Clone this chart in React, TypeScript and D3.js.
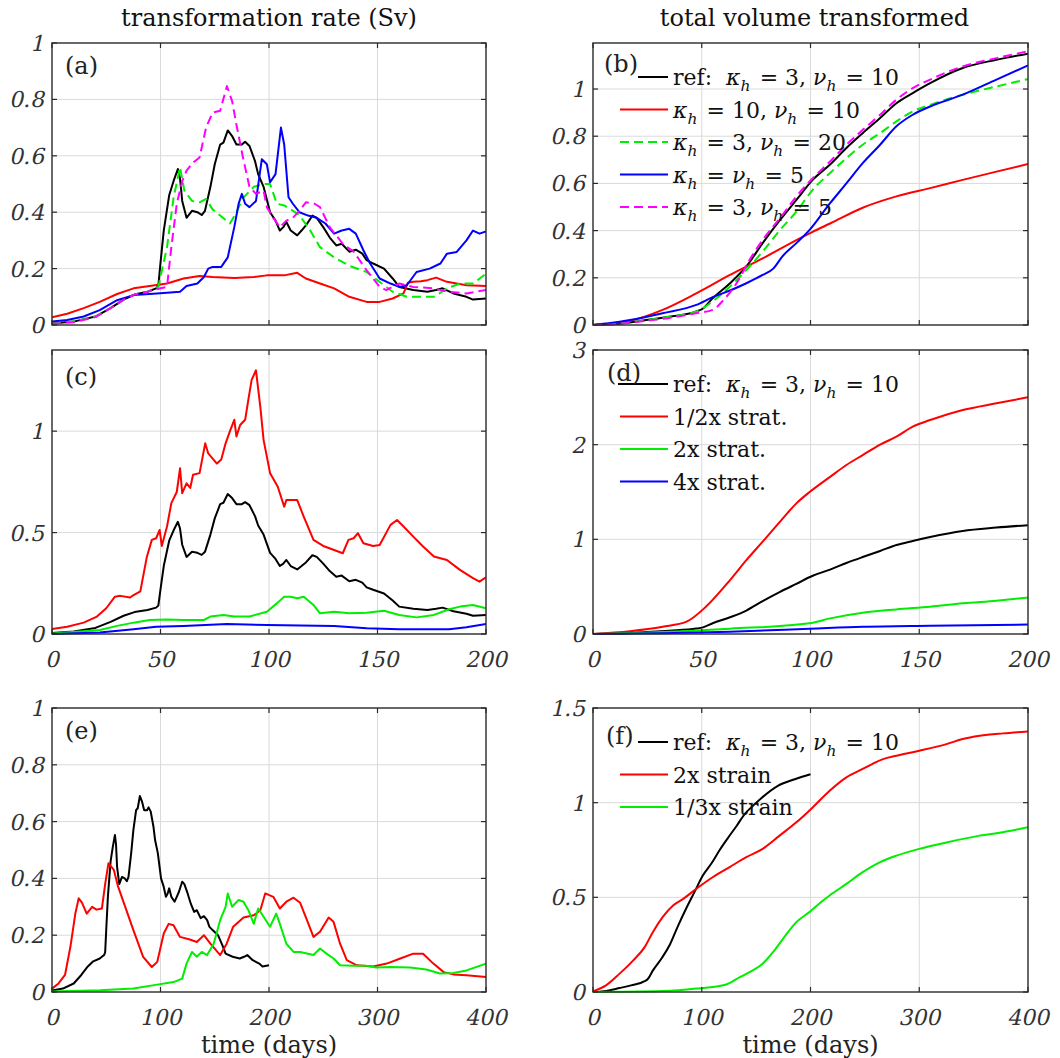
import React from 'react';
import * as d3 from 'd3';

type Pt = [number, number];

// ---------- DATA ----------
// transformation rate (Sv), reference run kappa_h=3, nu_h=10 (days 0-200)
const refRate: Pt[] = [[0,0.005],[10,0.012],[20,0.03],[27,0.06],[33,0.09],[38,0.108],[44,0.118],[48,0.13],[49,0.14],[50,0.22],[51.5,0.335],[54,0.46],[56,0.51],[58,0.553],[59,0.52],[60,0.44],[62,0.38],[64.5,0.405],[67,0.4],[69,0.39],[70.5,0.405],[73,0.49],[75,0.57],[77.5,0.64],[79,0.647],[81,0.69],[83,0.67],[85,0.64],[87.5,0.64],[89,0.65],[91,0.635],[93.6,0.58],[95,0.535],[97.5,0.49],[100.5,0.4],[103,0.37],[105,0.335],[106.6,0.347],[108,0.365],[110,0.335],[113,0.318],[115,0.335],[117,0.353],[120,0.388],[122,0.38],[125,0.347],[128,0.31],[131,0.282],[133.5,0.288],[137,0.26],[140,0.267],[143,0.253],[145,0.23],[148,0.218],[153,0.2],[157,0.165],[160,0.135],[166.5,0.124],[173,0.118],[177,0.124],[180,0.13],[185,0.112],[191,0.1],[194,0.09],[200,0.094]];
const rateK10: Pt[] = [[0,0.027],[7,0.04],[14.6,0.06],[22,0.082],[30,0.11],[37.6,0.13],[45,0.138],[53,0.147],[60.6,0.165],[68,0.174],[74,0.17],[84,0.167],[93,0.17],[99,0.176],[107,0.176],[113,0.185],[117,0.165],[123.5,0.147],[130,0.13],[137,0.1],[145,0.082],[151,0.082],[157,0.094],[162,0.112],[164,0.15],[166.5,0.153],[170,0.155],[173,0.159],[177,0.168],[182,0.153],[191,0.141],[200,0.138]];
const rateNu20: Pt[] = [[0,0.005],[10,0.012],[20,0.03],[27,0.06],[33,0.09],[38,0.108],[44,0.118],[49,0.135],[53,0.276],[56,0.45],[59,0.56],[61,0.476],[64.5,0.44],[68,0.435],[71,0.447],[74,0.41],[77.5,0.388],[82,0.36],[85,0.4],[88,0.45],[93,0.49],[97.5,0.5],[100.5,0.5],[103.6,0.43],[107,0.424],[110,0.41],[114,0.39],[119,0.335],[123.5,0.276],[130,0.24],[137,0.21],[145,0.188],[153,0.141],[157,0.118],[163.5,0.1],[170,0.1],[176,0.1],[182,0.13],[188,0.147],[194,0.147],[200,0.182]];
const rateK5N5: Pt[] = [[0,0.012],[7,0.018],[14.6,0.03],[22,0.053],[30,0.088],[37.6,0.106],[45,0.11],[53,0.114],[59,0.118],[62,0.138],[67,0.147],[70,0.17],[72,0.2],[74,0.206],[78,0.206],[81,0.24],[84,0.347],[86,0.43],[87.5,0.465],[89,0.43],[91,0.418],[94,0.44],[96.7,0.588],[99,0.57],[100.5,0.506],[103,0.535],[105.5,0.7],[107,0.64],[109,0.453],[111,0.43],[114,0.4],[118,0.388],[122,0.38],[126,0.36],[130,0.324],[133.5,0.335],[137,0.341],[140,0.324],[143.5,0.265],[146.6,0.218],[151,0.165],[156,0.147],[160,0.135],[163.5,0.141],[168,0.188],[174,0.2],[179,0.218],[182,0.253],[186.5,0.259],[191,0.3],[194,0.335],[197,0.324],[200,0.332]];
const rateNu5: Pt[] = [[0,0.004],[10,0.01],[20,0.028],[27,0.06],[33,0.09],[38,0.108],[44,0.118],[50,0.13],[53,0.135],[55,0.276],[57.5,0.43],[60,0.51],[62,0.547],[65,0.576],[68,0.594],[71,0.7],[74,0.753],[77.5,0.76],[80.6,0.847],[83,0.794],[85,0.71],[88,0.594],[91,0.49],[94,0.465],[97.5,0.476],[99,0.418],[102,0.38],[105,0.347],[108,0.37],[111,0.38],[114,0.405],[117,0.435],[121,0.43],[123.5,0.418],[128,0.347],[134,0.288],[139,0.26],[145,0.194],[151,0.135],[154,0.124],[160,0.147],[166.5,0.135],[176,0.13],[182,0.118],[191,0.112],[200,0.124]];

// total volume transformed
const refVol: Pt[] = [[0,0],[10,0.004],[24.5,0.021],[35,0.035],[47.5,0.057],[50.6,0.07],[55,0.113],[63,0.177],[70.5,0.248],[78,0.347],[86,0.445],[93.5,0.53],[101,0.615],[109,0.68],[116.5,0.75],[124,0.813],[132,0.877],[139.5,0.94],[147,0.983],[155,1.025],[170,1.089],[185.5,1.124],[200,1.15]];
const volK10: Pt[] = [[0,0],[8,0.006],[17,0.018],[32,0.064],[47.5,0.134],[63,0.212],[78,0.282],[93.5,0.36],[101,0.395],[109,0.43],[124,0.497],[139.5,0.545],[155,0.58],[170,0.615],[185.5,0.65],[200,0.682]];
const volNu20: Pt[] = [[0,0],[10,0.004],[24.5,0.021],[35,0.035],[47.5,0.057],[55,0.1],[63,0.163],[70.5,0.233],[78,0.311],[86,0.403],[93.5,0.48],[101,0.573],[109,0.644],[116.5,0.707],[124,0.764],[132,0.813],[139.5,0.863],[147,0.905],[155,0.933],[170,0.976],[185.5,1.011],[200,1.042]];
const volK5N5: Pt[] = [[0,0],[8,0.008],[17,0.021],[32,0.05],[47.5,0.085],[55,0.118],[63,0.146],[70.5,0.177],[78,0.212],[83,0.24],[87,0.29],[93.5,0.347],[99.6,0.403],[109,0.516],[116.5,0.6],[124,0.686],[132,0.764],[139.5,0.842],[147,0.891],[155,0.926],[170,0.976],[185.5,1.04],[200,1.1]];
const volNu5: Pt[] = [[0,0],[10,0.003],[24.5,0.018],[35,0.03],[47.5,0.05],[55,0.064],[60,0.106],[66,0.177],[72,0.276],[78,0.36],[86,0.453],[93.5,0.545],[101,0.622],[109,0.693],[116.5,0.764],[124,0.827],[132,0.891],[139.5,0.955],[147,1.004],[155,1.04],[170,1.096],[185.5,1.131],[200,1.16]];

// stratification experiments
const rateHalfStrat: Pt[] = [[0,0.025],[7,0.036],[14.6,0.056],[20.7,0.086],[25,0.127],[29,0.184],[31.5,0.188],[36,0.18],[37.6,0.192],[40.7,0.21],[43.7,0.38],[46,0.464],[48,0.472],[49.6,0.513],[50.6,0.434],[53,0.53],[55,0.645],[57.5,0.7],[59,0.817],[60,0.694],[62,0.743],[63.7,0.72],[65,0.785],[68,0.793],[70.6,0.94],[72,0.89],[76,0.84],[78,0.86],[80,0.94],[82,1.0],[84,1.056],[85,0.974],[86.7,1.03],[89,1.056],[90.6,1.163],[92,1.253],[94,1.3],[96,1.12],[97.5,0.957],[100.5,0.793],[104,0.727],[107,0.628],[108,0.66],[113,0.66],[116,0.579],[120.5,0.464],[125,0.434],[130,0.414],[134,0.398],[136.6,0.464],[139,0.472],[141,0.497],[143.5,0.447],[148,0.434],[151,0.439],[156,0.538],[159,0.562],[162,0.53],[166.5,0.48],[171,0.431],[176,0.382],[182,0.365],[188,0.316],[194,0.275],[197,0.258],[200,0.28]];
const rate2xStrat: Pt[] = [[0,0.003],[22,0.02],[30,0.04],[37.6,0.056],[45,0.069],[53,0.072],[60.6,0.069],[70,0.069],[73,0.086],[79,0.094],[84,0.086],[91,0.086],[99,0.11],[103.6,0.151],[107,0.184],[110,0.184],[113,0.176],[116,0.184],[120.5,0.143],[123.5,0.102],[130,0.11],[137,0.102],[145,0.105],[153,0.115],[160,0.094],[168,0.082],[176,0.094],[183,0.122],[188,0.135],[194,0.143],[200,0.127]];
const rate4xStrat: Pt[] = [[0,0],[22,0.007],[37.6,0.023],[48,0.036],[60.6,0.04],[80.6,0.049],[99,0.044],[130,0.04],[145,0.028],[160,0.023],[183,0.023],[191,0.033],[200,0.049]];
const volHalfStrat: Pt[] = [[0,0],[17,0.03],[32,0.077],[43,0.13],[52,0.29],[63,0.57],[70.5,0.78],[78,0.975],[86,1.187],[93.5,1.38],[99.6,1.5],[109,1.66],[116.5,1.785],[124,1.89],[132,2.0],[139.5,2.085],[147,2.19],[155,2.26],[170,2.366],[185.5,2.437],[200,2.5]];
const vol2xStrat: Pt[] = [[0,0],[32,0.02],[63,0.056],[99.6,0.113],[109,0.165],[124,0.225],[139.5,0.26],[155,0.289],[170,0.324],[185.5,0.352],[200,0.384]];
const vol4xStrat: Pt[] = [[0,0],[32,0.007],[63,0.025],[99.6,0.056],[124,0.077],[155,0.088],[200,0.1]];

// strain experiments (days 0-400)
const rate2xStrain: Pt[] = [[0,0.012],[6,0.03],[12,0.06],[17,0.16],[21.5,0.276],[24.6,0.33],[27.6,0.315],[32,0.276],[37,0.3],[41,0.29],[46,0.294],[49,0.38],[52,0.453],[57,0.43],[61,0.37],[67.5,0.3],[75,0.218],[84,0.124],[92,0.088],[97,0.106],[103,0.206],[107.5,0.24],[112,0.235],[118,0.194],[127,0.185],[133.5,0.176],[140,0.2],[146,0.17],[155,0.13],[161,0.17],[167,0.23],[176.5,0.262],[186,0.27],[192,0.288],[196.5,0.347],[204,0.335],[210,0.294],[216,0.318],[222.6,0.332],[228.7,0.314],[235,0.253],[241,0.194],[247,0.212],[255,0.262],[259.5,0.247],[265.5,0.17],[271.7,0.112],[281,0.094],[296,0.09],[308.5,0.1],[321,0.118],[333,0.135],[342,0.135],[351.5,0.1],[361,0.07],[370,0.062],[382,0.059],[400,0.053]];
const rateThirdStrain: Pt[] = [[0,0.002],[44.5,0.006],[75,0.012],[97,0.026],[112,0.035],[120,0.047],[124,0.1],[129,0.141],[133.5,0.124],[138,0.141],[143,0.13],[149,0.17],[155,0.253],[160,0.3],[162,0.347],[166,0.3],[172,0.324],[176.5,0.318],[181,0.288],[186,0.24],[190,0.294],[195,0.265],[201,0.23],[206.6,0.276],[210,0.24],[216,0.17],[222.6,0.141],[228.7,0.141],[241,0.13],[247,0.153],[253,0.135],[259.5,0.118],[265.5,0.094],[278,0.092],[290,0.092],[299,0.086],[311.6,0.088],[330,0.086],[345,0.079],[357.6,0.065],[370,0.067],[382,0.076],[400,0.1]];
const vol2xStrain: Pt[] = [[0,0.004],[12,0.035],[24.5,0.097],[37,0.167],[47.5,0.237],[55,0.316],[64,0.395],[73.6,0.457],[83,0.492],[95,0.545],[110,0.606],[125.7,0.66],[141,0.712],[156,0.756],[171.6,0.826],[187,0.896],[202,0.975],[217.6,1.063],[233,1.134],[248,1.178],[266.7,1.23],[279,1.248],[300,1.274],[325,1.309],[340,1.336],[355.6,1.353],[377,1.366],[400,1.376]];
const volThirdStrain: Pt[] = [[0,0],[64,0.005],[95,0.018],[122.6,0.04],[135,0.079],[147,0.114],[156,0.149],[165.5,0.21],[174.7,0.281],[187,0.369],[199,0.422],[211.5,0.483],[217.6,0.51],[233,0.571],[248,0.633],[263.6,0.685],[279,0.72],[300,0.756],[325,0.79],[355.6,0.826],[377,0.844],[400,0.87]];

// ticks & labels
const xTicks200 = [0, 50, 100, 150, 200];
const xTicks400 = [0, 100, 200, 300, 400];
const yTicksTenths = [0, 0.2, 0.4, 0.6, 0.8, 1];
const yTicksC = [0, 0.5, 1];
const yTicksD = [0, 1, 2, 3];
const yTicksF = [0, 0.5, 1, 1.5];
const legendB = ['ref:  κ_h = 3, ν_h = 10', 'κ_h = 10, ν_h = 10', 'κ_h = 3, ν_h = 20', 'κ_h = ν_h = 5', 'κ_h = 3, ν_h = 5'];
const legendD = ['ref:  κ_h = 3, ν_h = 10', '1/2x strat.', '2x strat.', '4x strat.'];
const legendF = ['ref:  κ_h = 3, ν_h = 10', '2x strain', '1/3x strain'];
const colTitles = ['transformation rate (Sv)', 'total volume transformed'];
const xAxisTitle = 'time (days)';

// ---------- STYLE ----------
const FONT = 'DejaVu Serif';
const BLACK = '#000000', RED = '#ff0000', GREEN = '#00ee00', BLUE = '#0000ff', MAGENTA = '#ff00ff';
const DASH = '9 5';
const SKEW = -13;

interface Series { data: Pt[]; color: string; dash?: string; smooth?: boolean }
interface Panel {
  label: string; left: number; top: number; right: number; bottom: number;
  xDomain: [number, number]; yDomain: [number, number];
  xTicks: number[]; yTicks: number[]; xLabels: boolean; xTitle?: boolean;
  labelDx: number; labelDy: number;
  series: Series[];
  legend?: string[]; legendLineStart?: number;
}

const colL = { left: 52, right: 486 };
const colR = { left: 593, right: 1028 };

const panels: Panel[] = [
  { label: '(a)', ...colL, top: 43, bottom: 325, xDomain: [0, 200], yDomain: [0, 1], xTicks: xTicks200, yTicks: yTicksTenths, xLabels: false, labelDx: 13, labelDy: 31,
    series: [{ data: refRate, color: BLACK }, { data: rateK10, color: RED }, { data: rateNu20, color: GREEN, dash: DASH }, { data: rateK5N5, color: BLUE }, { data: rateNu5, color: MAGENTA, dash: DASH }] },
  { label: '(b)', ...colR, top: 43, bottom: 325, xDomain: [0, 200], yDomain: [0, 1.195], xTicks: xTicks200, yTicks: yTicksTenths, xLabels: false, labelDx: 11, labelDy: 29,
    series: [{ data: refVol, color: BLACK, smooth: true }, { data: volK10, color: RED, smooth: true }, { data: volNu20, color: GREEN, dash: DASH, smooth: true }, { data: volK5N5, color: BLUE, smooth: true }, { data: volNu5, color: MAGENTA, dash: DASH, smooth: true }],
    legend: legendB, legendLineStart: 45 },
  { label: '(c)', ...colL, top: 350, bottom: 634, xDomain: [0, 200], yDomain: [0, 1.4], xTicks: xTicks200, yTicks: yTicksC, xLabels: true, labelDx: 13, labelDy: 35,
    series: [{ data: refRate, color: BLACK }, { data: rateHalfStrat, color: RED }, { data: rate2xStrat, color: GREEN }, { data: rate4xStrat, color: BLUE }] },
  { label: '(d)', ...colR, top: 350, bottom: 634, xDomain: [0, 200], yDomain: [0, 3], xTicks: xTicks200, yTicks: yTicksD, xLabels: true, labelDx: 14, labelDy: 31,
    series: [{ data: refVol, color: BLACK, smooth: true }, { data: volHalfStrat, color: RED, smooth: true }, { data: vol2xStrat, color: GREEN, smooth: true }, { data: vol4xStrat, color: BLUE, smooth: true }],
    legend: legendD, legendLineStart: 25 },
  { label: '(e)', ...colL, top: 708, bottom: 992, xDomain: [0, 400], yDomain: [0, 1], xTicks: xTicks400, yTicks: yTicksTenths, xLabels: true, xTitle: true, labelDx: 13, labelDy: 31,
    series: [{ data: refRate, color: BLACK }, { data: rate2xStrain, color: RED }, { data: rateThirdStrain, color: GREEN }] },
  { label: '(f)', ...colR, top: 708, bottom: 992, xDomain: [0, 400], yDomain: [0, 1.5], xTicks: xTicks400, yTicks: yTicksF, xLabels: true, xTitle: true, labelDx: 13, labelDy: 36,
    series: [{ data: refVol, color: BLACK, smooth: true }, { data: vol2xStrain, color: RED, smooth: true }, { data: volThirdStrain, color: GREEN, smooth: true }],
    legend: legendF, legendLineStart: 45 },
];

function MathText({ s, x, y, size }: { s: string; x: number; y: number; size: number }) {
  const parts = s.split(/(κ_h|ν_h)/).filter((p) => p.length > 0);
  const nodes: React.ReactNode[] = [];
  parts.forEach((p, i) => {
    if (p === 'κ_h' || p === 'ν_h') {
      nodes.push(<tspan key={i + 'a'} fontStyle="italic">{p[0]}</tspan>);
      nodes.push(<tspan key={i + 'b'} fontStyle="italic" fontSize={size * 0.7} dy={6}>h</tspan>);
      nodes.push(<tspan key={i + 'c'} dy={-6}>{'\u200a'}</tspan>);
    } else {
      nodes.push(<tspan key={i}>{p}</tspan>);
    }
  });
  return (
    <text x={x} y={y} fontSize={size} fill="#111" style={{ whiteSpace: 'pre', fontFamily: FONT }}>{nodes}</text>
  );
}

function PanelView({ p }: { p: Panel }) {
  const x = d3.scaleLinear().domain(p.xDomain).range([p.left, p.right]);
  const y = d3.scaleLinear().domain(p.yDomain).range([p.bottom, p.top]);
  const lineLin = d3.line<Pt>().x((d) => x(d[0])).y((d) => y(d[1]));
  const lineSmooth = d3.line<Pt>().x((d) => x(d[0])).y((d) => y(d[1])).curve(d3.curveMonotoneX);
  const tickLen = 5;
  const frame = '#2a2a2a';
  const grid = '#dadada';
  const cid = `clip-${p.label.replace(/[()]/g, '')}`;
  const tStyle = { fontFamily: FONT };
  return (
    <g>
      <defs>
        <clipPath id={cid}>
          <rect x={p.left} y={p.top - 1} width={p.right - p.left} height={p.bottom - p.top + 2} />
        </clipPath>
      </defs>
      <rect x={p.left} y={p.top} width={p.right - p.left} height={p.bottom - p.top} fill="#fff" />
      {p.xTicks.slice(1, -1).map((t) => (
        <line key={'gx' + t} x1={x(t)} x2={x(t)} y1={p.top} y2={p.bottom} stroke={grid} strokeWidth={1} />
      ))}
      {p.yTicks.filter((t) => y(t) > p.top + 1 && y(t) < p.bottom - 1).map((t) => (
        <line key={'gy' + t} x1={p.left} x2={p.right} y1={y(t)} y2={y(t)} stroke={grid} strokeWidth={1} />
      ))}
      <g clipPath={`url(#${cid})`}>
        {p.series.map((s, i) => (
          <path key={i} d={(s.smooth ? lineSmooth(s.data) : lineLin(s.data)) || ''} fill="none" stroke={s.color} strokeWidth={2} strokeDasharray={s.dash} strokeLinejoin="round" />
        ))}
      </g>
      {p.xTicks.map((t) => (
        <g key={'tx' + t}>
          <line x1={x(t)} x2={x(t)} y1={p.bottom} y2={p.bottom - tickLen} stroke={frame} strokeWidth={1.2} />
          <line x1={x(t)} x2={x(t)} y1={p.top} y2={p.top + tickLen} stroke={frame} strokeWidth={1.2} />
        </g>
      ))}
      {p.yTicks.map((t) => (
        <g key={'ty' + t}>
          <line x1={p.left} x2={p.left + tickLen} y1={y(t)} y2={y(t)} stroke={frame} strokeWidth={1.2} />
          <line x1={p.right} x2={p.right - tickLen} y1={y(t)} y2={y(t)} stroke={frame} strokeWidth={1.2} />
        </g>
      ))}
      <rect x={p.left} y={p.top} width={p.right - p.left} height={p.bottom - p.top} fill="none" stroke={frame} strokeWidth={1.4} />
      {p.yTicks.map((t) => (
        <text key={'ly' + t} transform={`translate(${p.left - 8},${y(t) + 8}) skewX(${SKEW})`} textAnchor="end" fontSize={22} fill="#333" style={tStyle}>{String(t)}</text>
      ))}
      {p.xLabels && p.xTicks.map((t) => (
        <text key={'lx' + t} transform={`translate(${x(t)},${p.bottom + 33}) skewX(${SKEW})`} textAnchor="middle" fontSize={22} fill="#333" style={tStyle}>{String(t)}</text>
      ))}
      {p.xTitle && (
        <text x={(p.left + p.right) / 2} y={p.bottom + 61} textAnchor="middle" fontSize={24} fill="#222" style={tStyle}>{xAxisTitle}</text>
      )}
      {p.legend && p.legend.map((s, i) => {
        const ry = p.top + 34 + i * 32.5;
        const ser = p.series[i];
        return (
          <g key={'lg' + i}>
            <line x1={p.left + (i === 0 ? (p.legendLineStart || 27) : 27)} x2={p.left + 75} y1={ry} y2={ry} stroke={ser.color} strokeWidth={2} strokeDasharray={ser.dash} />
            <MathText s={s} x={p.left + 80} y={ry + 8} size={22} />
          </g>
        );
      })}
      <text x={p.left + p.labelDx} y={p.top + p.labelDy} fontSize={24} fill="#222" style={tStyle}>{p.label}</text>
    </g>
  );
}

export default function App() {
  return (
    <svg width={1060} height={1058} viewBox="0 0 1060 1058" style={{ position: 'absolute', left: 0, top: 0, background: '#fff' }}>
      <rect x={0} y={0} width={1060} height={1058} fill="#fff" />
      <text x={(colL.left + colL.right) / 2} y={26} textAnchor="middle" fontSize={24} fill="#111" style={{ fontFamily: FONT }}>{colTitles[0]}</text>
      <text x={(colR.left + colR.right) / 2 + 4} y={26} textAnchor="middle" fontSize={24} fill="#111" style={{ fontFamily: FONT }}>{colTitles[1]}</text>
      {panels.map((p) => <PanelView key={p.label} p={p} />)}
    </svg>
  );
}
